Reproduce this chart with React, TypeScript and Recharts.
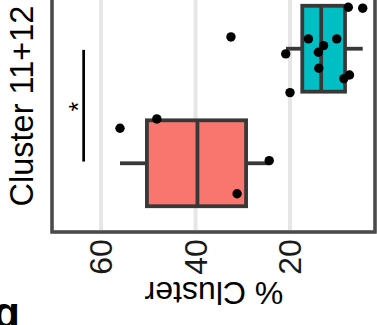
import React from 'react';
import {
  ComposedChart,
  XAxis,
  YAxis,
  CartesianGrid,
  Scatter,
  ReferenceArea,
  ReferenceLine,
  ReferenceDot,
  Label,
} from 'recharts';

// ---------- data ----------
const xTicks = [20, 40, 60];
const yTicks = [1, 2];
const xDomain: [number, number] = [2, 70.4];
const yDomain: [number, number] = [0.4, 2.6];

const groupPos = [1, 2];
const whiskerLow = [24.4, 4.6];
const boxQ1 = [29.3, 8.35];
const boxMedian = [39.6, 13.4];
const boxQ3 = [50.3, 17.4];
const whiskerHigh = [56.0, 20.85];

const pointsAPct = [56.0, 48.2, 24.4, 31.2];
const pointsAJit = [1.306, 1.387, 1.023, 0.734];
const pointsBPct = [7.65, 4.6, 16.1, 10.1, 12.9, 14.0, 20.9, 13.9, 7.4, 8.6, 20.0, 32.5];
const pointsBJit = [2.362, 2.354, 2.086, 2.086, 2.027, 1.969, 1.955, 1.83, 1.771, 1.739, 1.617, 2.103];

const bracketPct = 63.7;
const bracketFrom = 1.015;
const bracketTo = 1.99;
const starPct = 66.2;
const starPos = 1.494;
const starText = '*';

const xTitle = '% Cluster';
const yTitle = 'Cluster 11+12';
const panelTag = 'b';

// ---------- styles ----------
const FONT = '"Liberation Sans", Arial, Helvetica, sans-serif';
const fills = ['#F8766D', '#00BFC4'];
const LINE = '#383838';
const LW = 3.8;
const W = 377;
const H = 345;
const TOP = -20;
const PLOT_BOTTOM = 252;

const pointsA = pointsAPct.map((v, i) => ({ x: v, y: pointsAJit[i] }));
const pointsB = pointsBPct.map((v, i) => ({ x: v, y: pointsBJit[i] }));

const XTick = (props: any) => {
  const { x, payload } = props;
  return (
    <text
      transform={`translate(${x},${257 - TOP}) rotate(-90)`}
      textAnchor="middle"
      dominantBaseline="central"
      fontSize={32}
      fontFamily={FONT}
      fill="#1a1a1a"
    >
      {payload.value}
    </text>
  );
};

const dot = (p: any) => <circle cx={p.cx} cy={p.cy} r={4.7} fill="#000" />;

const lineShape = (color: string, width: number) => (p: any) => (
  <line x1={p.x1} y1={p.y1} x2={p.x2} y2={p.y2} stroke={color} strokeWidth={width} />
);

const rectShape = (fill: string, stroke: string, width: number) => (p: any) => (
  <rect x={p.x} y={p.y} width={p.width} height={p.height} fill={fill} stroke={stroke} strokeWidth={width} />
);

const gridLine = (p: any) => (
  <line x1={p.x1} y1={p.y1} x2={p.x2} y2={p.y2} stroke="#E6E6E6" strokeWidth={4} />
);

export default function App() {
  const half = 0.375;
  return (
    <div style={{ position: 'absolute', left: 0, top: 0, width: W, height: 325, overflow: 'hidden', background: '#fff' }}>
      <div style={{ position: 'absolute', left: 0, top: TOP }}>
        <ComposedChart width={W} height={H} margin={{ top: 0, right: 2, bottom: 0, left: 0 }}>
          <CartesianGrid horizontal={gridLine} vertical={gridLine} />
          <XAxis
            type="number"
            dataKey="x"
            domain={xDomain}
            reversed
            ticks={xTicks}
            interval={0}
            allowDataOverflow
            height={H - PLOT_BOTTOM}
            axisLine={false}
            tickLine={false}
            tick={<XTick />}
          >
            <Label
              content={() => (
                <text
                  transform={`translate(214,${282 - TOP}) rotate(180)`}
                  textAnchor="middle"
                  fontSize={32}
                  fontFamily={FONT}
                  fill="#000"
                >
                  {xTitle}
                </text>
              )}
            />
          </XAxis>
          <YAxis
            type="number"
            dataKey="y"
            domain={yDomain}
            ticks={yTicks}
            allowDataOverflow
            width={52}
            axisLine={false}
            tickLine={false}
            tick={false}
          >
            <Label
              content={() => (
                <text
                  transform={`translate(33,${106 - TOP}) rotate(-90)`}
                  textAnchor="middle"
                  fontSize={32.5}
                  fontFamily={FONT}
                  fill="#000"
                >
                  {yTitle}
                </text>
              )}
            />
          </YAxis>

          {groupPos.map((c, i) => (
            <ReferenceLine
              key={`wl${i}`}
              segment={[{ x: whiskerLow[i], y: c }, { x: boxQ1[i], y: c }]}
              shape={lineShape(LINE, LW)}
              ifOverflow="visible"
            />
          ))}
          {groupPos.map((c, i) => (
            <ReferenceLine
              key={`wh${i}`}
              segment={[{ x: boxQ3[i], y: c }, { x: whiskerHigh[i], y: c }]}
              shape={lineShape(LINE, LW)}
              ifOverflow="visible"
            />
          ))}
          {groupPos.map((c, i) => (
            <ReferenceArea
              key={`box${i}`}
              x1={boxQ1[i]}
              x2={boxQ3[i]}
              y1={c - half}
              y2={c + half}
              shape={rectShape(fills[i], LINE, LW)}
              ifOverflow="visible"
            />
          ))}
          {groupPos.map((c, i) => (
            <ReferenceLine
              key={`med${i}`}
              segment={[{ x: boxMedian[i], y: c - half }, { x: boxMedian[i], y: c + half }]}
              shape={lineShape(LINE, LW)}
              ifOverflow="visible"
            />
          ))}

          <ReferenceLine
            segment={[{ x: bracketPct, y: bracketFrom }, { x: bracketPct, y: bracketTo }]}
            shape={lineShape('#000', 2.7)}
            ifOverflow="visible"
          />
          <ReferenceDot
            x={starPct}
            y={starPos}
            r={0}
            ifOverflow="visible"
            shape={(p: any) => (
              <text
                transform={`translate(${p.cx + 6},${p.cy}) rotate(-90)`}
                textAnchor="middle"
                dominantBaseline="central"
                fontSize={25}
                fontFamily={FONT}
                fill="#000"
              >
                {starText}
              </text>
            )}
          />

          <Scatter data={pointsA} shape={dot} isAnimationActive={false} />
          <Scatter data={pointsB} shape={dot} isAnimationActive={false} />

          <ReferenceArea
            x1={xDomain[0]}
            x2={xDomain[1]}
            y1={yDomain[0]}
            y2={yDomain[1]}
            shape={rectShape('none', '#4a4a4a', 3.5)}
            ifOverflow="visible"
          />
        </ComposedChart>
      </div>
      <svg width={W} height={325} style={{ position: 'absolute', left: 0, top: 0, pointerEvents: 'none' }}>
        <text
          transform="translate(20,304) rotate(180)"
          fontSize={44}
          fontWeight="bold"
          fontFamily={FONT}
          fill="#000"
        >
          {panelTag}
        </text>
      </svg>
    </div>
  );
}
